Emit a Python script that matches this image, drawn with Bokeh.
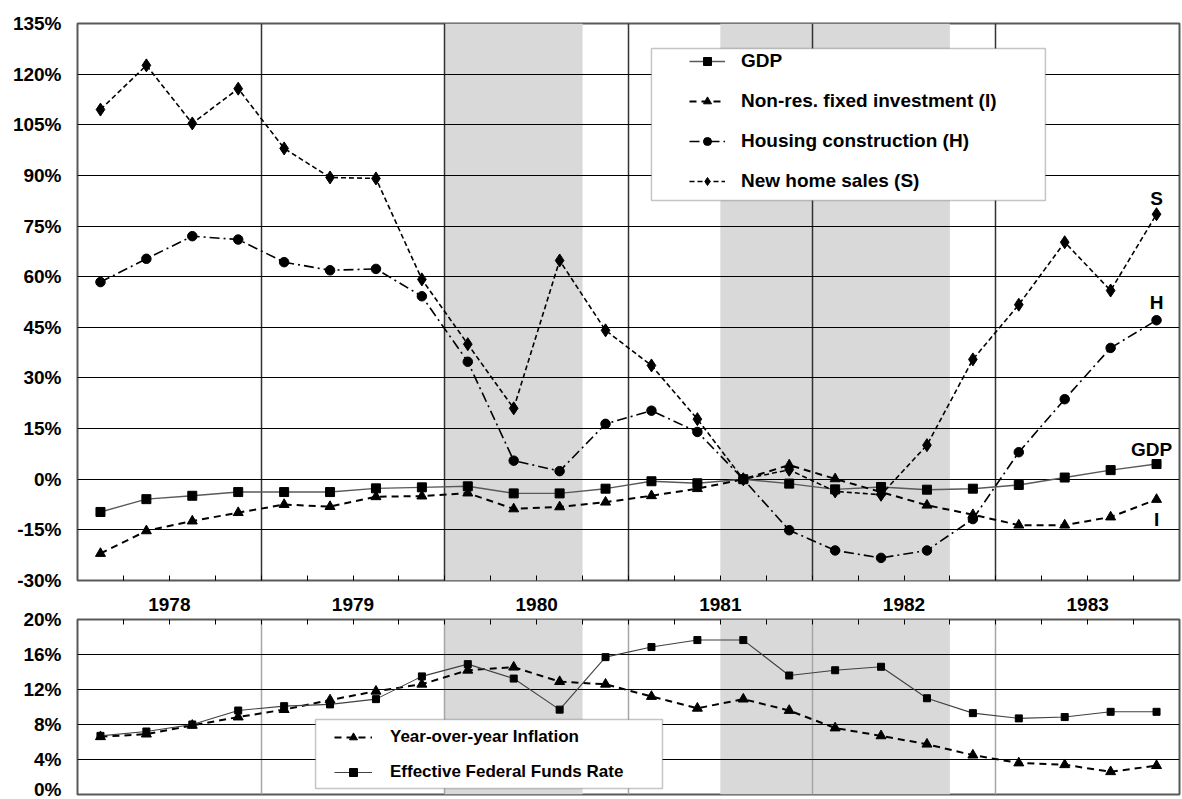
from bokeh.plotting import figure
from bokeh.layouts import column
from bokeh.models import (Range1d, FixedTicker, PrintfTickFormatter, CustomJSTickFormatter,
                          Legend, LegendItem, BoxAnnotation, Label)
from bokeh.embed import file_html
from bokeh.resources import INLINE

# ---------------- data ----------------
years = [1978, 1979, 1980, 1981, 1982, 1983]
quarters = [1, 2, 3, 4]
recession_start = [1980.0, 1981.5]
recession_end = [1980.75, 1982.75]

gdp = [-9.7, -5.9, -4.9, -3.8, -3.8, -3.8, -2.7, -2.4, -2.1, -4.2, -4.2, -2.8,
       -0.6, -1.2, 0.0, -1.3, -3.0, -2.3, -3.1, -2.8, -1.7, 0.5, 2.7, 4.5]
investment = [-22.0, -15.3, -12.4, -9.9, -7.5, -8.1, -5.2, -5.0, -4.1, -8.8, -8.2, -6.8,
              -4.9, -2.8, 0.0, 4.2, 0.1, -3.8, -7.7, -10.5, -13.6, -13.6, -11.2, -6.0]
housing = [58.4, 65.3, 72.0, 71.0, 64.3, 61.9, 62.3, 54.2, 34.8, 5.5, 2.4, 16.4,
           20.3, 14.0, 0.0, -15.1, -21.1, -23.3, -21.1, -11.8, 8.0, 23.7, 38.9, 47.1]
home_sales = [109.5, 122.6, 105.4, 115.7, 98.0, 89.4, 89.1, 59.2, 40.0, 21.0, 64.8, 44.1,
              33.7, 17.8, 0.0, 2.8, -3.6, -4.6, 10.1, 35.5, 51.7, 70.2, 55.9, 78.5]

inflation = [6.6, 6.9, 7.9, 8.85, 9.7, 10.8, 11.8, 12.6, 14.2, 14.55, 12.9, 12.6,
             11.2, 9.85, 10.9, 9.6, 7.6, 6.7, 5.75, 4.5, 3.6, 3.4, 2.6, 3.3]
fed_funds = [6.7, 7.2, 8.0, 9.6, 10.1, 10.3, 10.9, 13.5, 14.9, 13.25, 9.7, 15.7,
             16.85, 17.65, 17.65, 13.6, 14.2, 14.6, 11.0, 9.3, 8.7, 8.85, 9.45, 9.45]

top_ticks = list(range(-30, 136, 15))
bottom_ticks = list(range(0, 21, 4))

# ---------------- derived positions ----------------
x = [y + (q - 0.5) / 4 for y in years for q in quarters]
quarter_bounds = [y + q / 4 for y in years for q in range(0, 4)][1:]
year_bounds = years[1:]
year_centers = [y + 0.5 for y in years]

FONT = "Liberation Sans"
BLACK = "#000000"


def style_common(p):
    p.background_fill_color = "white"
    p.border_fill_color = "white"
    p.outline_line_color = "#595959"
    p.outline_line_width = 2
    p.yaxis.axis_line_color = None
    p.yaxis.major_tick_line_color = None
    p.yaxis.major_tick_out = 0
    p.yaxis.major_tick_in = 0
    p.yaxis.minor_tick_line_color = None
    p.yaxis.minor_tick_out = 0
    p.yaxis.major_label_text_font = FONT
    p.yaxis.major_label_text_font_style = "bold"
    p.yaxis.major_label_text_font_size = "19px"
    p.yaxis.major_label_text_color = BLACK
    p.yaxis.major_label_standoff = 16
    p.yaxis.formatter = PrintfTickFormatter(format="%d%%")
    for s, e in zip(recession_start, recession_end):
        p.add_layout(BoxAnnotation(left=s, right=e, fill_color="#d9d9d9", fill_alpha=1.0,
                                   line_color=None, level="image"))


# ================= TOP CHART =================
top = figure(frame_width=1102, frame_height=557, min_border_left=77, min_border_right=3,
             min_border_top=23, min_border_bottom=10,
             x_range=Range1d(years[0], years[-1] + 1), y_range=Range1d(top_ticks[0], top_ticks[-1]),
             output_backend="svg", toolbar_location=None)
style_common(top)
top.yaxis.ticker = FixedTicker(ticks=top_ticks)

xa = top.xaxis[0]
xa.ticker = FixedTicker(ticks=[], minor_ticks=quarter_bounds)
xa.axis_line_color = None
xa.major_tick_line_color = None
xa.major_tick_in = 0
xa.major_tick_out = 0
xa.minor_tick_in = 5
xa.minor_tick_out = 0
xa.minor_tick_line_color = BLACK
xa.minor_tick_line_width = 1
xa.major_label_standoff = 0

top.xgrid.ticker = FixedTicker(ticks=year_bounds)
top.xgrid.grid_line_color = "#333333"
top.xgrid.grid_line_width = 1.5
top.ygrid.grid_line_color = BLACK
top.ygrid.grid_line_width = 1.2

r_gdp_l = top.line(x, gdp, line_color="#595959", line_width=1.4)
r_gdp_m = top.scatter(x, gdp, marker="square", size=9, color=BLACK)
r_inv_l = top.line(x, investment, line_color=BLACK, line_width=2, line_dash="7 5")
r_inv_m = top.scatter(x, investment, marker="triangle", size=10, color=BLACK)
r_hou_l = top.line(x, housing, line_color=BLACK, line_width=1.6, line_dash="10 4 2 4")
r_hou_m = top.scatter(x, housing, marker="circle", size=9.5, color=BLACK)
r_sal_l = top.line(x, home_sales, line_color=BLACK, line_width=1.6, line_dash="5 3")
r_sal_m = top.scatter(x, home_sales, marker="diamond", size=13, color=BLACK)

# legend frame
top.add_layout(BoxAnnotation(left=1981.125, right=1983.27, bottom=82.57, top=127.59,
                             fill_color="white", fill_alpha=1.0,
                             line_color="#404040", line_width=1.5))
top_legend = Legend(items=[
    LegendItem(label="GDP", renderers=[r_gdp_l, r_gdp_m]),
    LegendItem(label="Non-res. fixed investment (I)", renderers=[r_inv_l, r_inv_m]),
    LegendItem(label="Housing construction (H)", renderers=[r_hou_l, r_hou_m]),
    LegendItem(label="New home sales (S)", renderers=[r_sal_l, r_sal_m]),
], location=(612, 388), padding=0, spacing=18, glyph_width=36, glyph_height=20,
    label_height=20, label_standoff=16, border_line_color=None, background_fill_alpha=0,
    label_text_font=FONT, label_text_font_style="bold", label_text_font_size="19px",
    label_text_color=BLACK)
top.add_layout(top_legend)

for series, text, dy, dx in [(home_sales, "S", 16, 0), (housing, "H", 18, 0),
                             (gdp, "GDP", 15, -5), (investment, "I", -20, 0)]:
    top.add_layout(Label(x=x[-1], y=series[-1], text=text, x_offset=dx, y_offset=dy,
                         text_align="center", text_baseline="middle",
                         text_font=FONT, text_font_style="bold", text_font_size="19px",
                         text_color=BLACK))

# ================= BOTTOM CHART =================
bot = figure(frame_width=1102, frame_height=175, min_border_left=77, min_border_right=3,
             min_border_top=29, min_border_bottom=5,
             x_range=top.x_range, y_range=Range1d(bottom_ticks[0], bottom_ticks[-1]),
             x_axis_location="above",
             output_backend="svg", toolbar_location=None)
style_common(bot)
bot.yaxis.ticker = FixedTicker(ticks=bottom_ticks)

ba = bot.xaxis[0]
ba.ticker = FixedTicker(ticks=year_centers, minor_ticks=quarter_bounds)
ba.formatter = CustomJSTickFormatter(code="return Math.floor(tick).toString();")
ba.axis_line_color = None
ba.major_tick_line_color = None
ba.major_tick_in = 0
ba.major_tick_out = 0
ba.minor_tick_in = 5
ba.minor_tick_out = 0
ba.minor_tick_line_color = BLACK
ba.minor_tick_line_width = 1
ba.major_label_text_font = FONT
ba.major_label_text_font_style = "bold"
ba.major_label_text_font_size = "19px"
ba.major_label_text_color = BLACK
ba.major_label_standoff = 9

bot.xgrid.ticker = FixedTicker(ticks=year_bounds)
bot.xgrid.grid_line_color = "#a6a6a6"
bot.xgrid.grid_line_width = 1.5
bot.ygrid.ticker = FixedTicker(ticks=bottom_ticks[1:-1])
bot.ygrid.grid_line_color = BLACK
bot.ygrid.grid_line_width = 1.2

r_inf_l = bot.line(x, inflation, line_color=BLACK, line_width=2, line_dash="7 5")
r_inf_m = bot.scatter(x, inflation, marker="triangle", size=10, color=BLACK)
r_ff_l = bot.line(x, fed_funds, line_color="#404040", line_width=1.1)
r_ff_m = bot.scatter(x, fed_funds, marker="square", size=7, color=BLACK)

bot.add_layout(BoxAnnotation(left=1979.296, right=1981.185, bottom=0.686, top=8.571,
                             fill_color="white", fill_alpha=1.0,
                             line_color="#404040", line_width=1.5))
bot_legend = Legend(items=[
    LegendItem(label="Year-over-year Inflation", renderers=[r_inf_l, r_inf_m]),
    LegendItem(label="Effective Federal Funds Rate", renderers=[r_ff_l, r_ff_m]),
], location=(257, 12), padding=0, spacing=15, glyph_width=38, glyph_height=20,
    label_height=20, label_standoff=18, border_line_color=None, background_fill_alpha=0,
    label_text_font=FONT, label_text_font_style="bold", label_text_font_size="17px",
    label_text_color=BLACK)
bot.add_layout(bot_legend)

layout = column(top, bot, spacing=0)
open("out.html", "w").write(file_html(layout, INLINE))
